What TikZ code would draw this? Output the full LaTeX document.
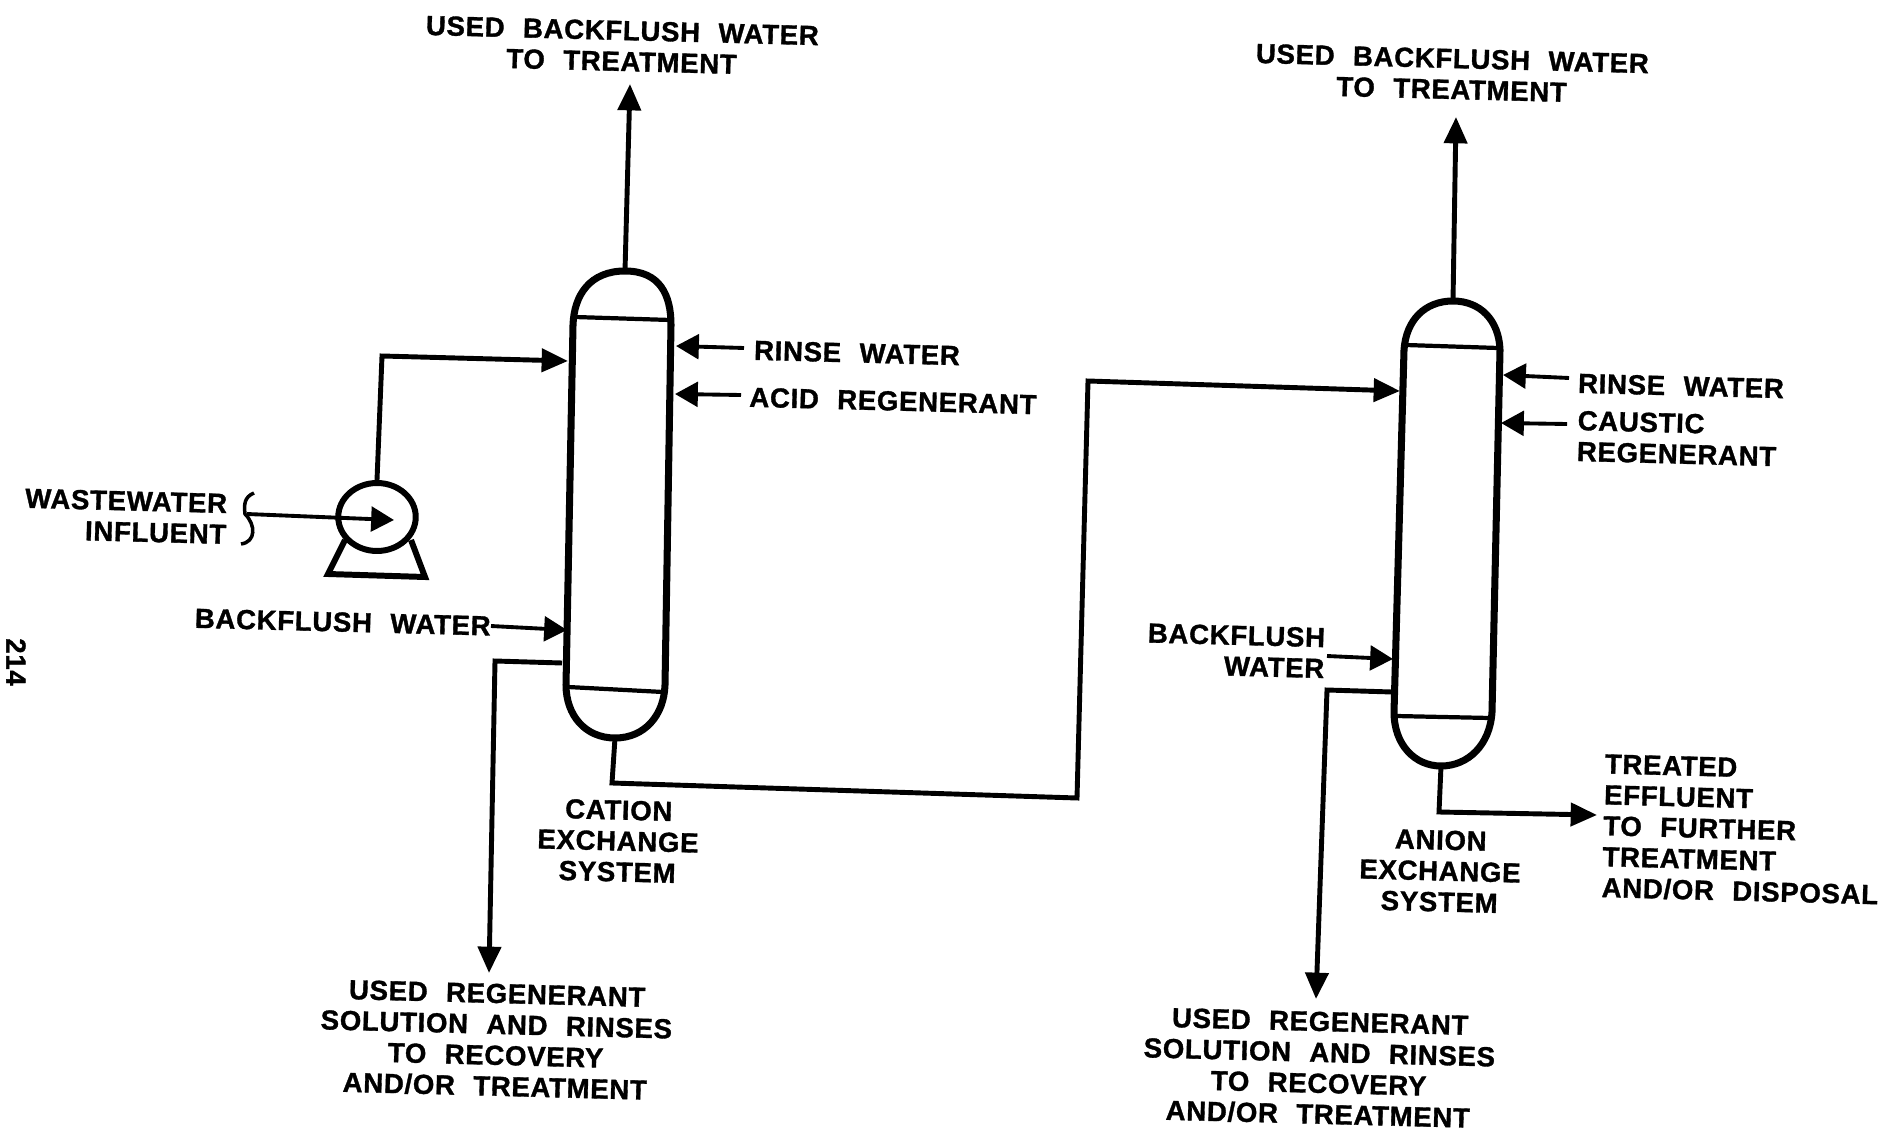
\documentclass[tikz,border=0pt]{standalone}
\usepackage{fontspec}
\setmainfont[WordSpace=2.2,LetterSpace=2.5,BoldFeatures={FakeBold=1.2}]{Liberation Sans}
\usetikzlibrary{arrows.meta,calc,positioning,shapes.geometric}
\tikzstyle{vessel}=[line width=4pt,line join=round]
\tikzstyle{band}=[line width=2.4pt]
\tikzstyle{pipe}=[line width=2.8pt,line join=miter]
\tikzstyle{flow}=[pipe,-{Triangle[length=15pt,width=13pt]}]
\tikzstyle{feed}=[line width=2.2pt,-{Triangle[length=13pt,width=14pt]}]
\tikzstyle{tag}=[inner sep=0pt,font=\fontsize{15.7}{17.6}\selectfont\bfseries,rotate=-1.5]
\begin{document}
\begin{tikzpicture}[x=0.02cm,y=-0.02cm]
\path[use as bounding box] (0,0) rectangle (1892,1138);
% cation column
\coordinate (ctop) at (625,271);
\coordinate (cbot) at (615,738);
\draw[vessel] (ctop) .. controls (590,271) and (574,295) .. (573,325) -- (566,685)
   .. controls (566,715) and (585,738) .. (cbot)
   .. controls (645,738) and (664,715) .. (665,685) -- (671,325)
   .. controls (671,295) and (660,271) .. (ctop);
\draw[band] (575,317) -- (670,320);
\draw[band] (568,687) -- (663,692);
% anion column
\coordinate (atop) at (1453,301);
\coordinate (abot) at (1441,766);
\draw[vessel] (atop) .. controls (1425,301) and (1406,320) .. (1404,350) -- (1394,712)
   .. controls (1394,745) and (1415,766) .. (abot)
   .. controls (1468,766) and (1490,745) .. (1492,712) -- (1500,350)
   .. controls (1499,320) and (1480,301) .. (atop);
\draw[band] (1406,345) -- (1498,348);
\draw[band] (1396,716) -- (1490,718);
% pump
\node[ellipse,draw,line width=3.4pt,minimum width=1.55cm,minimum height=1.36cm,inner sep=0pt] (pump) at (377,517) {};
\draw[line width=3.4pt,line join=miter] (345,540) -- (328,574) -- (425,577) -- (411,540);
% brace
\draw[line width=2pt] (254,493) .. controls (244,497) and (244,505) .. (245,514)
   .. controls (256,525) and (256,542) .. (241,544);
% labels
\node[tag,align=center] (usedA) at (622,46) {USED BACKFLUSH WATER\\TO TREATMENT};
\node[tag,align=center] (usedB) at (1452,74) {USED BACKFLUSH WATER\\TO TREATMENT};
\node[tag] (rinseA) at (857,353) {RINSE WATER};
\node[tag] (acid) at (893,401) {ACID REGENERANT};
\node[tag] (rinseB) at (1681,386) {RINSE WATER};
\node[tag,align=left,anchor=west] (caustic) at (1577,436) {CAUSTIC\\REGENERANT};
\node[tag,align=right,anchor=east] (waste) at (227,519) {WASTEWATER\\INFLUENT};
\node[tag,anchor=east] (backA) at (491,626) {BACKFLUSH WATER};
\node[tag,align=right,anchor=east] (backB) at (1325,653) {BACKFLUSH\\WATER};
\node[tag,align=center] (cation) at (618,841) {CATION\\EXCHANGE\\SYSTEM};
\node[tag,align=center] (anion) at (1440,871) {ANION\\EXCHANGE\\SYSTEM};
\node[tag,align=center] (regenA) at (496,1040) {USED REGENERANT\\SOLUTION AND RINSES\\TO RECOVERY\\AND/OR TREATMENT};
\node[tag,align=center] (regenB) at (1319,1068) {USED REGENERANT\\SOLUTION AND RINSES\\TO RECOVERY\\AND/OR TREATMENT};
\node[tag,align=left,anchor=west] (treated) at (1603,826) {TREATED\\EFFLUENT\\TO FURTHER\\TREATMENT\\AND/OR DISPOSAL};
\node[tag,rotate=-88.5] (page) at (16,662) {214};
% ports on the columns
\coordinate (A1) at (568,361);
\coordinate (A2) at (676,346);
\coordinate (A3) at (675,394);
\coordinate (A4) at (567,630);
\coordinate (A5) at (562,663);
\coordinate (B1) at (1400,391);
\coordinate (B2) at (1503,375);
\coordinate (B3) at (1501,423);
\coordinate (B4) at (1393,659);
\coordinate (B5) at (1392,692);
% free ends
\coordinate (endA) at (630,84);
\coordinate (endB) at (1456,117);
\coordinate (downA) at (489,973);
\coordinate (downB) at (1316,999);
\coordinate (out) at (1597,815);
\coordinate (impeller) at (394,520);
\coordinate (inlet) at (247,514);
% pipes
\draw[flow] (ctop) -- (endA);
\draw[flow] (atop) -- (endB);
\draw[flow] (pump.north) -- (382,356) -- (A1);
\draw[flow] (cbot) -- (612,783) -- (1077,798) -- (1088,381) -- (B1);
\draw[flow] (A5) -- (495,661) -- (downA);
\draw[flow] (B5) -- (1327,690) -- (downB);
\draw[flow] (abot) -- (1439,812) -- (out);
\draw[feed] (inlet) -- (impeller);
\draw[feed] (744,348) -- (A2);
\draw[feed] (741,395) -- (A3);
\draw[feed] (1569,378) -- (B2);
\draw[feed] (1567,424) -- (B3);
\draw[feed] (backA.east) -- (A4);
\draw[feed] (1327,656) -- (B4);
\end{tikzpicture}
\end{document}
